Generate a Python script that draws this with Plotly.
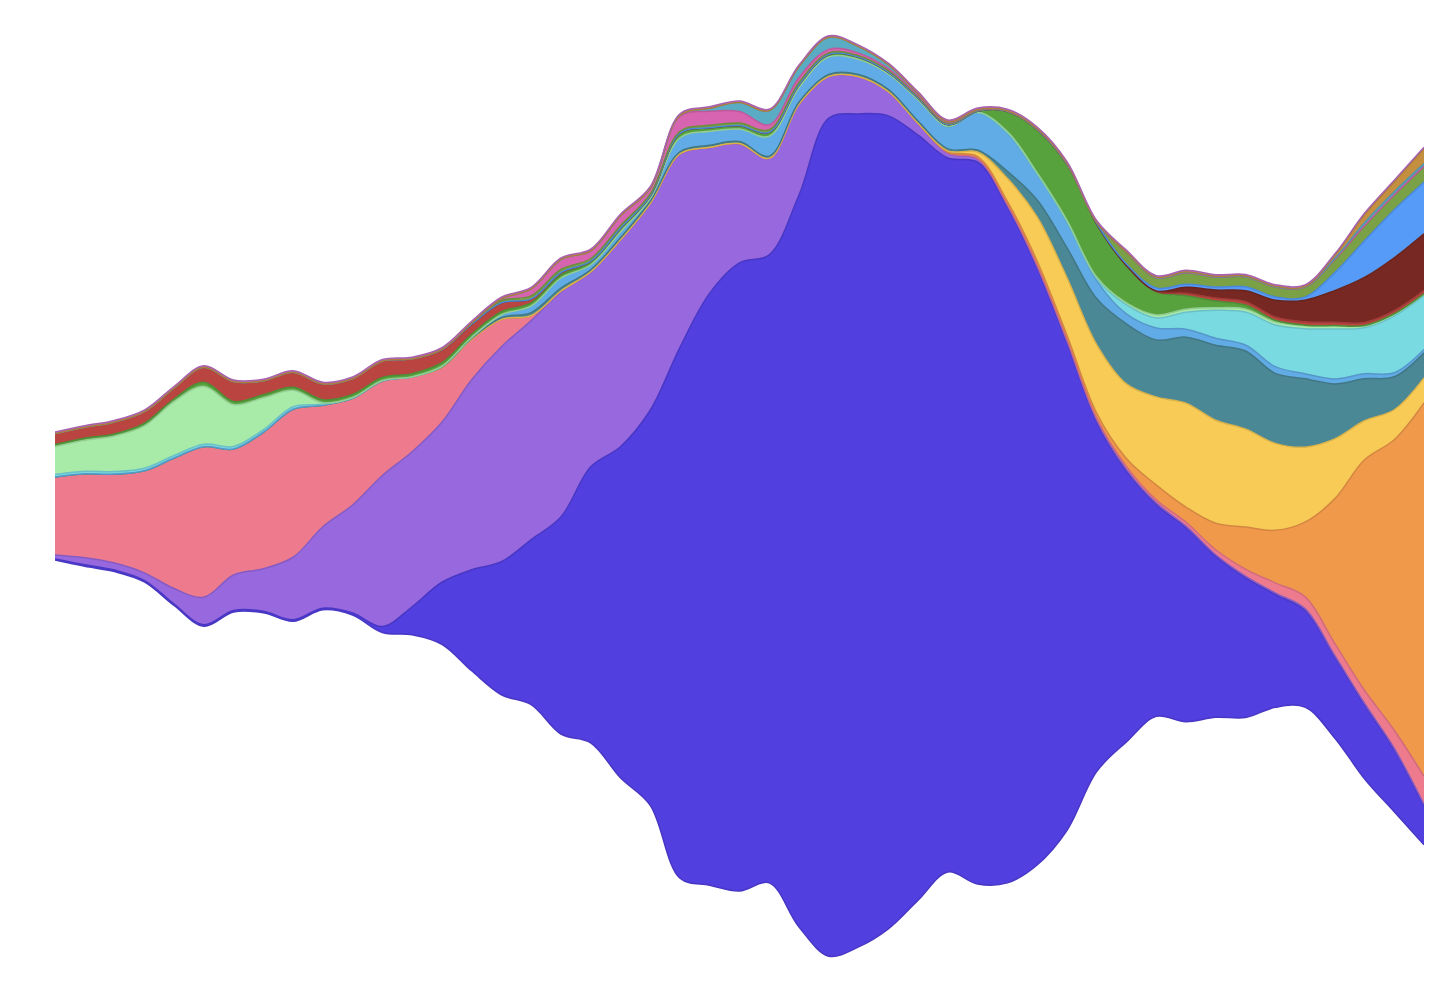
import plotly.graph_objs as go

# 47 time steps across the stream
periods = list(range(47))

# Layer thicknesses, bottom layer first
indigo = [1, 1.5, 1.5, 1.5, 1.5, 1.5, 1.5, 1.5, 1.5, 1.5, 2, 6, 28, 62, 101, 133, 165, 217, 276, 331, 395, 531, 592, 628, 628, 732, 838, 833, 813, 765, 714, 722, 676, 597, 488, 350, 271, 212, 194, 161, 140, 113, 97, 81, 74, 62, 39]
lavender = [4, 7, 7, 7.5, 15.5, 27.5, 35.5, 42.5, 62.5, 81.5, 108, 151, 155, 160, 190, 215, 219, 225, 194.5, 206.5, 206.5, 193, 145.5, 119, 96.4, 90.7, 41.5, 37.2, 24.1, 11.7, 4.6, 3, 1.5, 1.5, 1.5, 1.5, 1.5, 1.5, 1.5, 1.5, 1.5, 1.5, 1.5, 1.5, 1.5, 1.5, 1.5]
rose = [78, 84, 89, 102, 130.5, 150.5, 126, 136.5, 148, 121.5, 106.7, 94.5, 75, 55, 40.5, 27.5, 5, 1, 0.5, 0.5, 0.5, 0.5, 0.3, 0.3, 0.3, 0.3, 0.3, 0.3, 0.3, 0.3, 0.5, 0.5, 1, 1.5, 2, 2, 3, 3, 4, 5, 7, 10, 12, 12, 13, 18, 28]
orange = [0, 0, 0, 0, 0, 0, 0, 0, 0, 0, 0, 0, 0, 0, 0, 0, 0, 0, 0, 0, 0, 0, 0, 0, 0, 0, 0, 0, 0, 0, 1, 2, 3, 4, 4, 5, 8, 15, 15, 26.5, 42, 52.5, 74.5, 144.5, 230.5, 290.5, 373.5]
yellow = [0, 0, 0, 0, 0, 0, 0, 0, 0, 0, 0, 0, 0, 0, 0, 0, 0, 0, 0, 0, 0, 0, 0, 0, 0, 0, 0, 0, 0, 0, 1, 4.5, 23, 44, 57.5, 68.5, 74.5, 88, 104, 103, 98, 87, 75, 60, 39, 30, 25]
teal = [0, 0, 0, 0, 0, 0, 0, 0, 0, 0, 0, 0, 0, 0.5, 1, 1.5, 3, 3, 2, 2, 2, 2, 2, 2, 2, 2, 2, 2, 2, 2, 2, 2, 7, 17, 30, 46, 60, 57, 66, 75, 78, 70, 68.5, 55, 42, 33, 25]
sky = [0, 0, 0, 0, 0, 0, 0, 0, 0, 0, 0, 0, 0, 0.5, 1, 3, 6.7, 10, 5, 6, 3, 14, 14, 12.5, 20, 14.5, 17.5, 15, 15.5, 21.5, 22, 37, 38, 25.5, 25.5, 18, 10, 12, 8, 7, 6, 6.7, 5, 5, 5, 4, 3.3]
cyan = [2.5, 2.5, 2.5, 2.5, 2.5, 2.5, 2.5, 2.5, 2.5, 1, 0.5, 0.5, 0, 0, 0, 0, 0, 0, 0, 0, 0, 0, 0, 0, 0, 0, 0, 0, 0, 0, 0.3, 0.3, 0.3, 0.3, 0.5, 2, 9, 10, 17, 28, 33, 41.7, 45, 50, 46, 56.7, 54]
mint = [28, 31, 35.7, 42.5, 54, 58, 42, 32, 16.5, 1.5, 0.3, 0, 0, 0, 0, 0, 0, 0, 0, 0, 0, 0, 0, 0, 0, 0, 0, 0, 0, 0, 0.3, 0.5, 1.5, 1.5, 1.5, 1.5, 2, 3, 3, 2.5, 3, 3, 3, 3, 2, 2, 1.5]
green = [2, 2, 2, 2.5, 2.5, 4, 3, 3, 3, 3, 3, 3, 3, 3.5, 3, 3, 3, 3, 2.5, 2.5, 2, 4, 3, 3, 3.5, 2.5, 2, 2, 1.5, 1.5, 1.5, 1, 20, 43, 56, 53, 37, 23, 13.3, 6.7, 4, 1.7, 0.5, 0.3, 0.3, 0.3, 0.3]
red = [11, 11, 12, 11.7, 11, 15, 20, 14, 15, 16, 16, 16.5, 15, 13, 10, 9, 4, 2.5, 1, 1, 0.5, 0.5, 0.5, 0.5, 0.5, 0.5, 0.5, 0.3, 0.3, 0.3, 0.3, 0.3, 0.3, 0.3, 0.3, 0.3, 0.5, 0.5, 2.5, 3, 3.3, 3.3, 3.3, 3.3, 3, 3, 3.3]
maroon = [0, 0, 0, 0, 0, 0, 0, 0, 0, 0, 0, 0, 0, 0, 0, 0, 0, 0, 0, 0, 0, 0, 0, 0, 0, 0, 0, 0, 0, 0, 0, 0, 0, 0, 0, 0, 0, 0.5, 6, 8, 11, 16.7, 21.7, 31.7, 45, 53, 56.7]
azure = [0, 0, 0, 0, 0, 0, 0, 0, 0, 0, 0, 0, 0, 0, 0, 0, 0, 0, 0, 0, 0, 0, 0, 0, 0, 0, 0, 0, 0, 0, 0, 0, 0, 0, 0, 0.5, 1.5, 3, 3, 3, 4, 3.3, 3, 18, 36.7, 48, 51.7]
olive = [0, 0, 0, 0, 0, 0, 0, 0, 0, 0, 0, 0, 0, 0.5, 1, 2, 3, 3, 2.5, 2.5, 1.5, 2, 2.5, 2.5, 2.5, 2, 1.5, 1.5, 1.5, 1, 1, 0.5, 0.3, 0.5, 0.5, 1, 12, 10, 11.7, 10, 10, 10, 10, 13, 15, 15, 15.7]
magenta = [0, 0, 0, 0, 0, 0, 0, 0, 0, 0, 0, 0, 0, 0, 0.5, 2, 7, 10, 8, 10, 6, 15, 14, 11.5, 5, 5, 3.5, 2.5, 2, 1.5, 1, 0.5, 0, 0, 0, 0, 0, 0, 0, 0, 0, 0, 0, 0, 0, 0, 0]
steel = [0, 0, 0, 0, 0, 0, 0, 0, 0, 0, 0, 0, 0, 0, 0, 0, 0, 0, 0, 0, 0, 1, 3, 9, 14, 11, 12, 6.5, 4, 2, 1, 0.5, 0.3, 0.3, 0.3, 0.3, 0.3, 0.3, 0.3, 0.3, 0.3, 0.3, 0.3, 1, 3, 3, 2.7]
gold = [0, 0, 0, 0, 0, 0, 0, 0, 0, 0, 0, 0, 0, 0, 0, 0, 0, 0, 0, 0, 0, 0, 0, 0, 0, 0, 0, 0, 0, 0, 0, 0, 0, 0, 0, 0, 0, 0.5, 0.5, 0.5, 0.5, 0.5, 0.5, 3, 8, 10, 15]
orchid = [1.5, 1.5, 1.5, 1.5, 1.5, 1.5, 1.5, 1.5, 1.5, 1.5, 1.5, 1.5, 1.5, 1.5, 1.5, 1.5, 1.5, 1.5, 1.5, 1.5, 1.5, 1.5, 1.5, 1.5, 1.5, 1.5, 1.5, 1.5, 1.5, 1.5, 1.5, 1.5, 1.5, 1.5, 1.5, 1.5, 1.5, 1.5, 1.5, 1.5, 1.5, 1.5, 1.5, 1.5, 1.5, 1.5, 1.5]

layers = [
    ('indigo', indigo, '#523fdf'),
    ('lavender', lavender, '#9868de'),
    ('rose', rose, '#ee7a8e'),
    ('orange', orange, '#f0994a'),
    ('yellow', yellow, '#f7cb55'),
    ('teal', teal, '#4a8896'),
    ('sky', sky, '#61ace6'),
    ('cyan', cyan, '#79dbe1'),
    ('mint', mint, '#a8eaa8'),
    ('green', green, '#58a23e'),
    ('red', red, '#b94440'),
    ('maroon', maroon, '#772822'),
    ('azure', azure, '#559bf7'),
    ('olive', olive, '#7aa145'),
    ('magenta', magenta, '#d764b0'),
    ('steel', steel, '#5aabc4'),
    ('gold', gold, '#c49040'),
    ('orchid', orchid, '#c070c8'),
]


def darker(hex_color, f=0.88):
    r = int(hex_color[1:3], 16)
    g = int(hex_color[3:5], 16)
    b = int(hex_color[5:7], 16)
    return 'rgb({}, {}, {})'.format(int(r * f), int(g * f), int(b * f))


# Silhouette offset: the stream is centred on zero
totals = [sum(col) for col in zip(*[l[1] for l in layers])]
baseline = [-t / 2 for t in totals]

fig = go.Figure()

fig.add_trace(go.Scatter(
    x=periods,
    y=baseline,
    stackgroup='stream',
    mode='lines',
    fill='none',
    hoverinfo='skip',
    line=dict(width=1.5, color=darker('#523fdf'), shape='spline', smoothing=1)
))

for name, values, color in layers:
    fig.add_trace(go.Scatter(
        x=periods,
        y=values,
        name=name,
        stackgroup='stream',
        mode='lines',
        fill='tonexty',
        fillcolor=color,
        line=dict(width=1.5, color=darker(color), shape='spline', smoothing=1)
    ))

# page body keeps its default 8px margin, so the plot div sits at (8, 8)
fig.update_layout(
    showlegend=False,
    plot_bgcolor='white',
    paper_bgcolor='white',
    margin=dict(l=47, r=12, t=12, b=22),
    xaxis=dict(visible=False, range=[0, 46]),
    yaxis=dict(visible=False, range=[-476, 476]),
)

fig.write_html("out.html")
